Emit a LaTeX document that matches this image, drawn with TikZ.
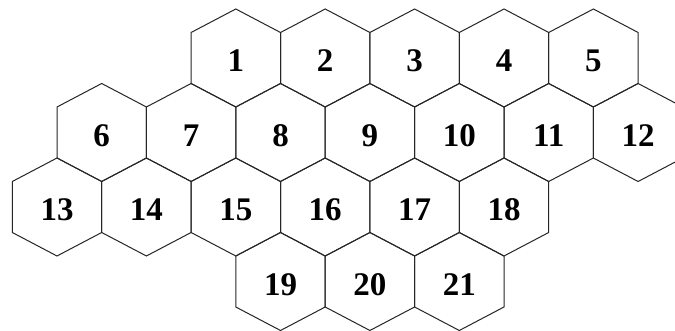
\documentclass[tikz,border=0pt]{standalone}
\usepackage{fontspec}
\setmainfont{Liberation Serif}
\tikzset{
  hexline/.style={draw=black!85, line width=1pt, line join=miter},
  lbl/.style={font=\fontsize{33}{36}\selectfont\bfseries, inner sep=0pt, text=black},
}
% #1 name, #2 column index, #3 row y (from top, px), #4 label
\newcommand\hexcell[4]{%
  \pgfmathsetmacro\hx{57+44.7*#2}%
  \pgfmathsetmacro\hy{331-#3}%
  \draw[hexline, shift={(\hx,\hy)}] (0,49) -- (44.7,25.5) -- (44.7,-25.5) -- (0,-49) -- (-44.7,-25.5) -- (-44.7,25.5) -- cycle;
  \node[lbl] (#1) at (\hx,\hy-3) {#4};%
}
\begin{document}
\begin{tikzpicture}[x=1pt,y=1pt]
\useasboundingbox (0,0) rectangle (675,331);
\clip (0,0) rectangle (675,331);
\fill[white] (0,0) rectangle (675,331);
% row 1
\hexcell{h1}{4}{58}{1}
\hexcell{h2}{6}{58}{2}
\hexcell{h3}{8}{58}{3}
\hexcell{h4}{10}{58}{4}
\hexcell{h5}{12}{58}{5}
% row 2
\hexcell{h6}{1}{132.5}{6}
\hexcell{h7}{3}{132.5}{7}
\hexcell{h8}{5}{132.5}{8}
\hexcell{h9}{7}{132.5}{9}
\hexcell{h10}{9}{132.5}{10}
\hexcell{h11}{11}{132.5}{11}
\hexcell{h12}{13}{132.5}{12}
% row 3
\hexcell{h13}{0}{207}{13}
\hexcell{h14}{2}{207}{14}
\hexcell{h15}{4}{207}{15}
\hexcell{h16}{6}{207}{16}
\hexcell{h17}{8}{207}{17}
\hexcell{h18}{10}{207}{18}
% row 4
\hexcell{h19}{5}{281.5}{19}
\hexcell{h20}{7}{281.5}{20}
\hexcell{h21}{9}{281.5}{21}
\end{tikzpicture}
\end{document}
